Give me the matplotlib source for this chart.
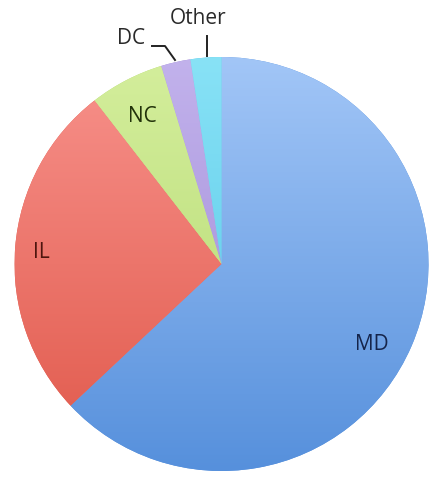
import matplotlib
matplotlib.use('Agg')
import matplotlib.pyplot as plt
import matplotlib.colors as mcolors
import numpy as np

plt.rcParams['font.family'] = ['Open Sans', 'DejaVu Sans']

# ---- data ----
states = ['MD', 'IL', 'NC', 'DC', 'Other']
shares = [63.0, 26.5, 5.8, 2.3, 2.4]

# top / bottom colour of each slice's vertical gradient
top_colors = ['#a2c6f7', '#f8928c', '#d4ee9c', '#c2b2ec', '#88e2f6']
bottom_colors = ['#5690dc', '#e0584a', '#b2d86e', '#9c86d4', '#50c4e6']
label_colors = ['#15244a', '#4e150e', '#22320a', '#2a2a2a', '#2a2a2a']

W, H = 434, 485
fig = plt.figure(figsize=(W / 100, H / 100), dpi=100)
ax = fig.add_axes([0, 0, 1, 1])

cx, cy, r = 221.5, 220.0, 207.0
wedges, _ = ax.pie(shares, startangle=90, counterclock=False,
                   center=(cx, cy), radius=r,
                   colors=bottom_colors,
                   wedgeprops=dict(linewidth=0))

# vertical gradient fill clipped to each wedge
ramp = np.linspace(0, 1, 256)[:, None]
for w, c0, c1 in zip(wedges, top_colors, bottom_colors):
    cmap = mcolors.LinearSegmentedColormap.from_list('g', [c1, c0])
    im = ax.imshow(ramp, cmap=cmap, origin='lower', aspect='auto',
                   extent=(cx - r, cx + r, cy - r, cy + r),
                   interpolation='bilinear', zorder=2)
    im.set_clip_path(w)

fs = 15
# labels inside the larger slices
ax.text(372, H - 345, 'MD', fontsize=fs, color=label_colors[0],
        ha='center', va='center', zorder=5)
ax.text(41, H - 253, 'IL', fontsize=fs, color=label_colors[1],
        ha='center', va='center', zorder=5)
ax.text(142, H - 116, 'NC', fontsize=fs, color=label_colors[2],
        ha='center', va='center', zorder=5)

# leader lines for the thin slices
ax.text(131, H - 38, 'DC', fontsize=fs, color=label_colors[3],
        ha='center', va='center', zorder=5)
ax.plot([152, 165, 175], [H - 47, H - 47, H - 61], color='#222222',
        lw=1.4, zorder=5)
ax.text(198, H - 18, 'Other', fontsize=fs, color=label_colors[4],
        ha='center', va='center', zorder=5)
ax.plot([207, 207], [H - 37, H - 57], color='#222222', lw=1.4, zorder=5)

ax.set_xlim(0, W)
ax.set_ylim(0, H)
ax.set_aspect('auto')
ax.axis('off')

fig.savefig('out.png', dpi=100, facecolor='white')
